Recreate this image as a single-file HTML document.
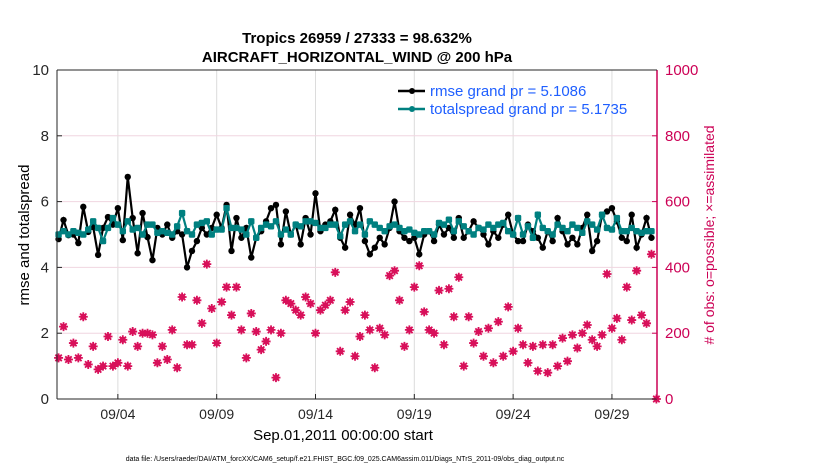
<!DOCTYPE html>
<html><head><meta charset="utf-8"><style>
html,body{margin:0;padding:0;background:#fff;}
svg{display:block;font-family:"Liberation Sans",sans-serif;}
</style></head><body>
<svg id="chart" width="830" height="470" xmlns="http://www.w3.org/2000/svg">
<text x="357" y="43" font-size="15" font-weight="bold" text-anchor="middle">Tropics 26959 / 27333 = 98.632%</text>
<text x="357" y="62" font-size="15" font-weight="bold" text-anchor="middle">AIRCRAFT_HORIZONTAL_WIND @ 200 hPa</text>
<g id="grid"></g>
<g id="pink"></g>
<g id="lines"></g>
<g id="axes"></g>
<text x="29" y="235" font-size="15" text-anchor="middle" transform="rotate(-90 29 235)">rmse and totalspread</text>
<text x="714" y="235" font-size="14" fill="#cc0055" text-anchor="middle" transform="rotate(-90 714 235)"># of obs: o=possible; ×=assimilated</text>
<text x="343" y="440" font-size="15" text-anchor="middle">Sep.01,2011 00:00:00 start</text>
<text x="345" y="461" font-size="7" text-anchor="middle">data file: /Users/raeder/DAI/ATM_forcXX/CAM6_setup/f.e21.FHIST_BGC.f09_025.CAM6assim.011/Diags_NTrS_2011-09/obs_diag_output.nc</text>
<g>
<line x1="398" y1="91" x2="425" y2="91" stroke="#000" stroke-width="2.5"/>
<circle cx="412" cy="91" r="3" fill="#000"/>
<text x="430" y="96" font-size="15" fill="#1f5fff">rmse grand pr = 5.1086</text>
<line x1="398" y1="109" x2="425" y2="109" stroke="#008080" stroke-width="2.5"/>
<circle cx="412" cy="109" r="3" fill="#008080"/>
<text x="430" y="114" font-size="15" fill="#1f5fff">totalspread grand pr = 5.1735</text>
</g>
</svg>
<script>
const rmse=[4.86,5.44,4.98,5.0,4.74,5.84,5.08,5.23,4.38,5.2,
5.53,5.3,5.8,4.83,6.75,5.5,4.43,5.65,4.92,4.22,
5.2,5.0,5.3,4.9,5.1,5.0,4.0,4.5,4.8,5.2,
5.0,5.2,5.6,5.2,5.9,4.5,5.5,4.9,5.2,4.3,
4.9,5.1,5.4,5.8,5.9,4.7,5.7,5.0,5.3,4.7,
5.5,5.0,6.25,5.1,5.3,5.4,5.75,4.9,4.6,5.6,
5.3,5.8,4.8,4.4,4.6,4.9,4.7,5.2,6.0,5.1,
4.9,4.8,4.9,4.4,5.0,5.1,4.8,5.3,5.0,5.2,
4.9,5.5,4.9,5.1,5.4,5.2,5.0,4.7,5.1,4.9,
5.3,5.6,5.0,4.8,4.8,5.3,5.1,4.9,4.6,5.1,
4.8,5.5,5.1,4.7,4.9,4.7,5.2,5.6,4.5,4.8,
5.6,5.7,5.8,5.4,4.9,4.8,5.6,4.6,5.0,5.5,4.9];
const spread=[5.0,5.1,5.0,5.1,5.05,5.0,5.15,5.4,5.2,4.8,
5.2,5.5,5.3,5.1,5.4,5.15,5.2,5.0,5.3,5.3,
5.05,5.1,5.05,5.0,5.25,5.65,5.1,5.0,5.3,5.35,
5.4,5.0,5.15,5.15,5.8,5.2,5.2,5.15,5.0,5.4,
4.9,5.2,5.3,5.25,5.4,5.0,5.15,5.0,5.3,5.25,
5.4,5.4,5.35,5.2,5.2,5.3,5.3,4.95,5.3,5.4,
5.1,5.3,5.0,5.4,5.3,5.2,5.1,5.25,5.3,5.2,
5.1,5.15,5.05,5.0,5.1,5.1,5.0,5.35,5.3,5.45,
5.1,5.4,5.25,5.1,5.0,5.2,5.15,5.3,5.2,5.3,
5.35,5.1,5.0,5.5,5.0,5.25,4.9,5.6,5.2,5.1,
5.0,5.3,5.2,5.1,5.3,5.2,5.05,5.4,5.3,5.15,
5.6,5.2,5.15,5.5,5.1,5.1,5.2,5.1,5.05,5.1,5.1];
const obsCount=[125,220,120,170,125,250,105,160,90,100,
190,100,110,180,100,205,160,200,200,195,
110,160,120,210,95,310,165,165,300,230,
410,275,170,295,340,255,340,210,125,260,
205,150,175,210,65,200,300,290,270,255,
310,290,200,270,285,300,385,145,270,295,
130,190,255,210,95,215,195,375,390,300,
160,210,340,405,265,210,200,330,165,335,
250,370,100,250,170,205,130,215,110,235,
130,280,145,215,165,110,160,85,165,80,
165,100,185,115,195,155,200,225,180,160,
195,380,215,245,180,340,240,390,255,230,440,0];
const xTickLabels=["09/04","09/09","09/14","09/19","09/24","09/29"];
const xTickDays=[3,8,13,18,23,28];
const yLeftTicks=[0,2,4,6,8,10];
const yRightTicks=[0,200,400,600,800,1000];

const X0=57,X1=657,Y0=399,Y1=70,D0=-0.08,D1=30.28;
const xs=d=>X0+(d-D0)/(D1-D0)*(X1-X0);
const yl=v=>Y0-v/10*(Y0-Y1);
const yr=v=>Y0-v/1000*(Y0-Y1);
const NS="http://www.w3.org/2000/svg";
function mk(tag,attrs,parent){const e=document.createElementNS(NS,tag);for(const k in attrs)e.setAttribute(k,attrs[k]);parent.appendChild(e);return e;}
const grid=document.getElementById('grid'),axes=document.getElementById('axes'),pink=document.getElementById('pink'),lines=document.getElementById('lines');
mk('rect',{x:X0,y:Y1,width:X1-X0,height:Y0-Y1,fill:'#fff'},grid);
xTickDays.forEach((d,i)=>{
  const x=xs(d);
  const g=mk('line',{x1:x,y1:Y1,x2:x,y2:Y0,stroke:'#dcdcdc','stroke-width':1},grid);
  
  
  mk('line',{x1:x,y1:Y0,x2:x,y2:Y0-5,stroke:'#262626'},axes);
  const t=mk('text',{x:x,y:Y0+20,'font-size':14,'text-anchor':'middle',fill:'#262626'},axes);
  t.textContent=xTickLabels[i];
  
  
});
yLeftTicks.forEach(v=>{
  const y=yl(v);
  if(v>0&&v<10){const g=mk('line',{x1:X0,y1:y,x2:X1,y2:y,stroke:'#f0d6e0','stroke-width':1},grid);
  
  }
  mk('line',{x1:X0,y1:y,x2:X0+5,y2:y,stroke:'#262626'},axes);
  const t=mk('text',{x:X0-8,y:y+5,'font-size':15,'text-anchor':'end',fill:'#262626'},axes);
  t.textContent=v;
  
  
});
yRightTicks.forEach(v=>{
  const y=yr(v);
  mk('line',{x1:X1,y1:y,x2:X1-5,y2:y,stroke:'#cc0055'},axes);
  const t=mk('text',{x:X1+8,y:y+5,'font-size':15,fill:'#cc0055'},axes);
  t.textContent=v;
  
  
});
mk('line',{x1:X0,y1:Y1,x2:X0,y2:Y0,stroke:'#262626'},axes);
mk('line',{x1:X0,y1:Y0,x2:X1,y2:Y0,stroke:'#262626'},axes);
mk('line',{x1:X1,y1:Y1,x2:X1,y2:Y0,stroke:'#cc0055','stroke-width':1.5},axes);
mk('line',{x1:X0,y1:Y1,x2:X1,y2:Y1,stroke:'#262626'},axes);
const dx=i=>xs(i*0.25);
obsCount.forEach((v,i)=>{
  const x=dx(i),y=yr(v);
  const g=mk('g',{},pink);
  
  
  mk('circle',{cx:x,cy:y,r:3,fill:'#d8105a'},g);
  mk('path',{d:`M${x-4.5} ${y}H${x+4.5}M${x} ${y-4.5}V${y+4.5}M${x-3.2} ${y-3.2}L${x+3.2} ${y+3.2}M${x-3.2} ${y+3.2}L${x+3.2} ${y-3.2}`,stroke:'#d8105a','stroke-width':1.8},g);
});
function series(arr,color,r,name,shape){
  const pts=arr.map((v,i)=>dx(i)+','+yl(v)).join(' ');
  const pl=mk('polyline',{points:pts,fill:'none',stroke:color,'stroke-width':2.2},lines);
  
  
  arr.forEach((v,i)=>{
    const m=shape==='sq'?mk('rect',{x:dx(i)-r,y:yl(v)-r,width:2*r,height:2*r,rx:1.5,fill:color},lines):mk('circle',{cx:dx(i),cy:yl(v),r:r,fill:color},lines);
    
    
  });
}
series(rmse,'#000',3.2,'rmse','c');
series(spread,'#008080',3.2,'totalspread','sq');
</script>
</body></html>
